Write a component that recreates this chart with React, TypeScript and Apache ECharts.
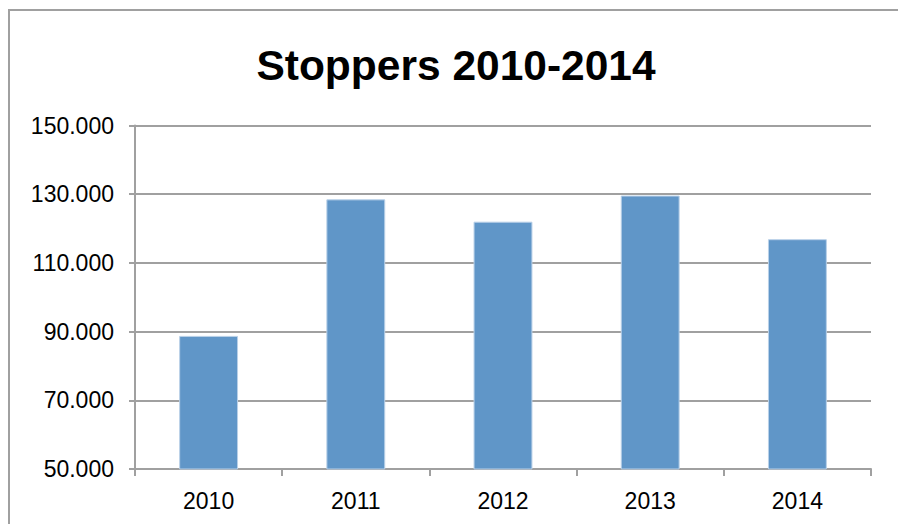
import React, { useEffect, useRef } from "react";
import * as echarts from "echarts";

const categories: string[] = ["2010", "2011", "2012", "2013", "2014"];
const stoppers: number[] = [88750, 128500, 122000, 129600, 116900];
const titleText = "Stoppers 2010-2014";
const yMin = 50000;
const yMax = 150000;
const yStep = 20000;

const fmt = (v: number) => {
  const s = Math.round(v).toString();
  return s.replace(/\B(?=(\d{3})+(?!\d))/g, ".");
};

export default function App() {
  const ref = useRef<HTMLDivElement>(null);
  useEffect(() => {
    if (!ref.current) return;
    const chart = echarts.init(ref.current, null, { renderer: "svg" });
    chart.setOption({
      animation: false,
      backgroundColor: "#ffffff",
      graphic: [
        {
          type: "rect",
          shape: { x: 9, y: 10, width: 1000, height: 1000 },
          style: { fill: "none", stroke: "#a0a0a0", lineWidth: 2 },
          silent: true,
        },
        {
          type: "text",
          x: 456,
          y: 65,
          style: {
            text: titleText,
            font: "bold 42.5px 'Liberation Sans', Arial, sans-serif",
            fill: "#000000",
            textAlign: "center",
            textVerticalAlign: "middle",
          },
        },
      ],
      grid: { left: 135, right: 27, top: 125.5, bottom: 55, containLabel: false },
      xAxis: {
        type: "category",
        data: categories,
        boundaryGap: true,
        axisLine: { show: true, lineStyle: { color: "#a0a0a0", width: 2 } },
        axisTick: { show: true, length: 7, alignWithLabel: false, lineStyle: { color: "#a0a0a0", width: 2 } },
        axisLabel: {
          margin: 20,
          color: "#000000",
          fontSize: 23,
          fontFamily: "'Liberation Sans', Arial, sans-serif",
        },
      },
      yAxis: {
        type: "value",
        min: yMin,
        max: yMax,
        interval: yStep,
        axisLine: { show: true, lineStyle: { color: "#a0a0a0", width: 2 } },
        axisTick: { show: true, length: 6, lineStyle: { color: "#a0a0a0", width: 2 } },
        splitLine: { show: true, lineStyle: { color: "#a0a0a0", width: 2 } },
        axisLabel: {
          margin: 21,
          color: "#000000",
          fontSize: 23,
          fontFamily: "'Liberation Sans', Arial, sans-serif",
          formatter: (v: number) => fmt(v),
        },
      },
      series: [
        {
          type: "bar",
          data: stoppers,
          barWidth: "40%",
          itemStyle: { color: "#6096c8", borderColor: "#b9d0e8", borderWidth: 1 },
        },
      ],
    });
    return () => chart.dispose();
  }, []);
  return (
    <div
      ref={ref}
      style={{ position: "fixed", left: 0, top: 0, width: 898, height: 524 }}
    />
  );
}
